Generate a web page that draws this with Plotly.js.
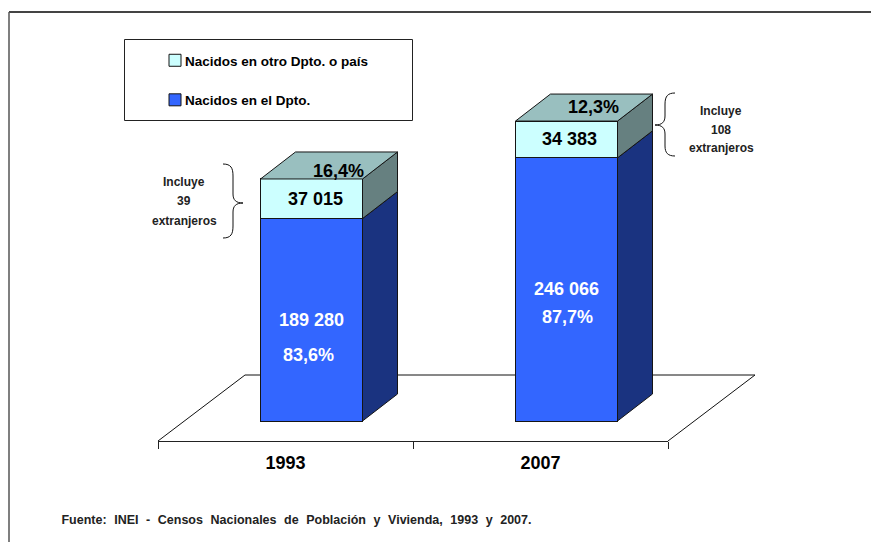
<!DOCTYPE html>
<html><head><meta charset="utf-8">
<script src="https://cdn.plot.ly/plotly-3.0.1.min.js"></script>
<style>html,body{margin:0;padding:0;background:#fff}#c{width:871px;height:542px}
.annotation[data-index="0"] text{word-spacing:4.1px}
.legend .legendpoints{transform:translate(10px,0)}
.legend path.legendbar{d:path("M5,5H-5V-5H5Z")}</style>
</head><body><div id="c"></div>
<script>
var years = ['1993', '2007'];
var bornHere = [189280, 246066];
var bornElsewhere = [37015, 34383];
var bornHerePct = ['83,6%', '87,7%'];
var bornElsewherePct = ['16,4%', '12,3%'];
var seriesNames = ['Nacidos en el Dpto.', 'Nacidos en otro Dpto. o país'];
var foreignNotes = [['Incluye', '39', 'extranjeros'], ['Incluye', '108', 'extranjeros']];
var source = 'Fuente: INEI - Censos Nacionales de Población y Vivienda, 1993 y 2007.';

var W = 871, H = 542, FONT = '"Liberation Sans", Arial, sans-serif';
var PER_PX = 935;
var BAR_W = 0.4, BAR_OFF = -0.098;
var DX = 35 / 255, DY = 27 * PER_PX;
function fmt(v) { return String(v).replace(/\B(?=(\d{3})+$)/g, ' '); }
function px(x) { return x / W; }
function py(y) { return 1 - y / H; }
function poly(pts, fill) {
  return { type: 'path', xref: 'x', yref: 'y', layer: 'above', fillcolor: fill,
    line: { color: '#151515', width: 1 },
    path: 'M' + pts.map(function (p) { return p[0] + ',' + p[1]; }).join(' L') + ' Z' };
}
function paperPath(cmds, layer) {
  return { type: 'path', xref: 'paper', yref: 'paper', layer: layer || 'above', line: { color: '#111', width: 1 },
    path: cmds.map(function (c) {
      return c[0] + c.slice(1).map(function (p) { return px(p[0]) + ',' + py(p[1]); }).join(' ');
    }).join(' ') };
}
function note(x, y, text, size, bold, color) {
  return { xref: 'paper', yref: 'paper', x: px(x), y: py(y), text: bold ? '<b>' + text + '</b>' : text,
    showarrow: false, xanchor: 'center', yanchor: 'middle',
    font: { family: FONT, size: size, color: color || '#000' } };
}

var shapes = [
  // floor
  paperPath([['M', [158, 441]], ['L', [245, 375]], ['L', [755, 375]], ['L', [668, 441]]], 'below'),
  // frame
  { type: 'line', xref: 'paper', yref: 'paper', x0: px(9), x1: 1, y0: py(12), y1: py(12), line: { color: '#444', width: 2 } },
  { type: 'line', xref: 'paper', yref: 'paper', x0: px(9), x1: px(9), y0: py(12), y1: 0, line: { color: '#555', width: 1.5 } },
  // legend box
  { type: 'rect', xref: 'paper', yref: 'paper', layer: 'below', x0: px(124.5), x1: px(412.5), y0: py(39.5), y1: py(120.5), fillcolor: '#fff', line: { color: '#222', width: 1 } },
  // braces
  paperPath([['M', [223, 164]], ['C', [231, 164], [233, 168], [233, 176]], ['L', [233, 194]], ['C', [233, 200], [236, 203], [243, 203]], ['C', [236, 203], [233, 206], [233, 212]], ['L', [233, 226]], ['C', [233, 234], [231, 238], [223, 238]]]),
  paperPath([['M', [675, 93]], ['C', [668, 93], [665, 96], [665, 104]], ['L', [665, 116]], ['C', [665, 122], [662, 125], [655, 125]], ['C', [662, 125], [665, 128], [665, 134]], ['L', [665, 146]], ['C', [665, 153], [668, 156], [675, 156]]])
];
years.forEach(function (y, i) {
  var x1 = i + BAR_OFF + BAR_W, x0 = i + BAR_OFF, v1 = bornHere[i], v2 = v1 + bornElsewhere[i];
  shapes.push(poly([[x1, 0], [x1 + DX, DY], [x1 + DX, v1 + DY], [x1, v1]], '#1a3380'));
  shapes.push(poly([[x1, v1], [x1 + DX, v1 + DY], [x1 + DX, v2 + DY], [x1, v2]], '#668080'));
  shapes.push(poly([[x0, v2], [x1, v2], [x1 + DX, v2 + DY], [x0 + DX, v2 + DY]], '#99bfbf'));
});

var annotations = [note(296.5, 520, source, 12.5, true, '#222')];
var pctShift = [35, 28], topShift = [8, 14], pctX = [-3, 1], elseX = [4, 3];
years.forEach(function (y, i) {
  var xc = i + BAR_OFF + BAR_W / 2, v1 = bornHere[i], v2 = bornElsewhere[i];
  function lab(val, text, color, xs, ys) {
    annotations.push({ xref: 'x', yref: 'y', x: xc, y: val, xshift: xs, yshift: ys, showarrow: false,
      text: '<b>' + text + '</b>', font: { family: FONT, size: 18, color: color } });
  }
  lab(v1 / 2, fmt(v1), '#fff', 0, 0);
  lab(v1 / 2, bornHerePct[i], '#fff', pctX[i], -pctShift[i]);
  lab(v1 + v2 / 2, fmt(v2), '#000', elseX[i], 0);
  lab(v1 + v2, bornElsewherePct[i], '#000', 27, topShift[i]);
});
var noteX = [184, 721], noteY = [[182, 201, 221], [111, 130, 148]];
foreignNotes.forEach(function (lines, i) {
  lines.forEach(function (t, j) { annotations.push(note(noteX[i], noteY[i][j], t, 12, true, '#222')); });
});

var traces = [
  { type: 'bar', name: seriesNames[0], x: [0, 1], y: bornHere, width: BAR_W, offset: BAR_OFF, legendgroup: 'a', legendrank: 2,
    marker: { color: '#3366ff', line: { color: '#151515', width: 1 } } },
  { type: 'bar', name: seriesNames[1], x: [0, 1], y: bornElsewhere, width: BAR_W, offset: BAR_OFF, legendgroup: 'b', legendrank: 1,
    marker: { color: '#ccffff', line: { color: '#151515', width: 1 } } }
];
var layout = {
  width: W, height: H, margin: { l: 0, r: 0, t: 0, b: 0 }, paper_bgcolor: '#fff', plot_bgcolor: 'rgba(0,0,0,0)',
  barmode: 'stack', showlegend: true, hovermode: false,
  font: { family: FONT },
  legend: { x: px(156), y: py(45), xanchor: 'left', yanchor: 'top', bgcolor: 'rgba(0,0,0,0)', borderwidth: 0,
    traceorder: 'grouped', tracegroupgap: 19, indentation: -11, itemclick: false, itemdoubleclick: false,
    font: { family: FONT, size: 13.5, color: '#000', weight: 'bold' } },
  xaxis: { domain: [158 / W, 668 / W], range: [-0.5, 1.5], tickmode: 'array', tickvals: [0, 1], ticktext: years,
    ticks: '', showgrid: false, zeroline: false, showline: true, linecolor: '#222', linewidth: 1, ticklabelstandoff: 5,
    tickfont: { family: FONT, size: 18, color: '#000', weight: 'bold' },
    minor: { tickmode: 'array', tickvals: [-0.5, 0.5, 1.5], ticks: 'outside', ticklen: 7, tickcolor: '#222', tickwidth: 1, showgrid: false } },
  yaxis: { domain: [101 / H, 1], range: [-20 * PER_PX, 421 * PER_PX], visible: false, showgrid: false, zeroline: false },
  shapes: shapes, annotations: annotations
};
Plotly.newPlot('c', traces, layout, { displayModeBar: false, staticPlot: true });
</script></body></html>
